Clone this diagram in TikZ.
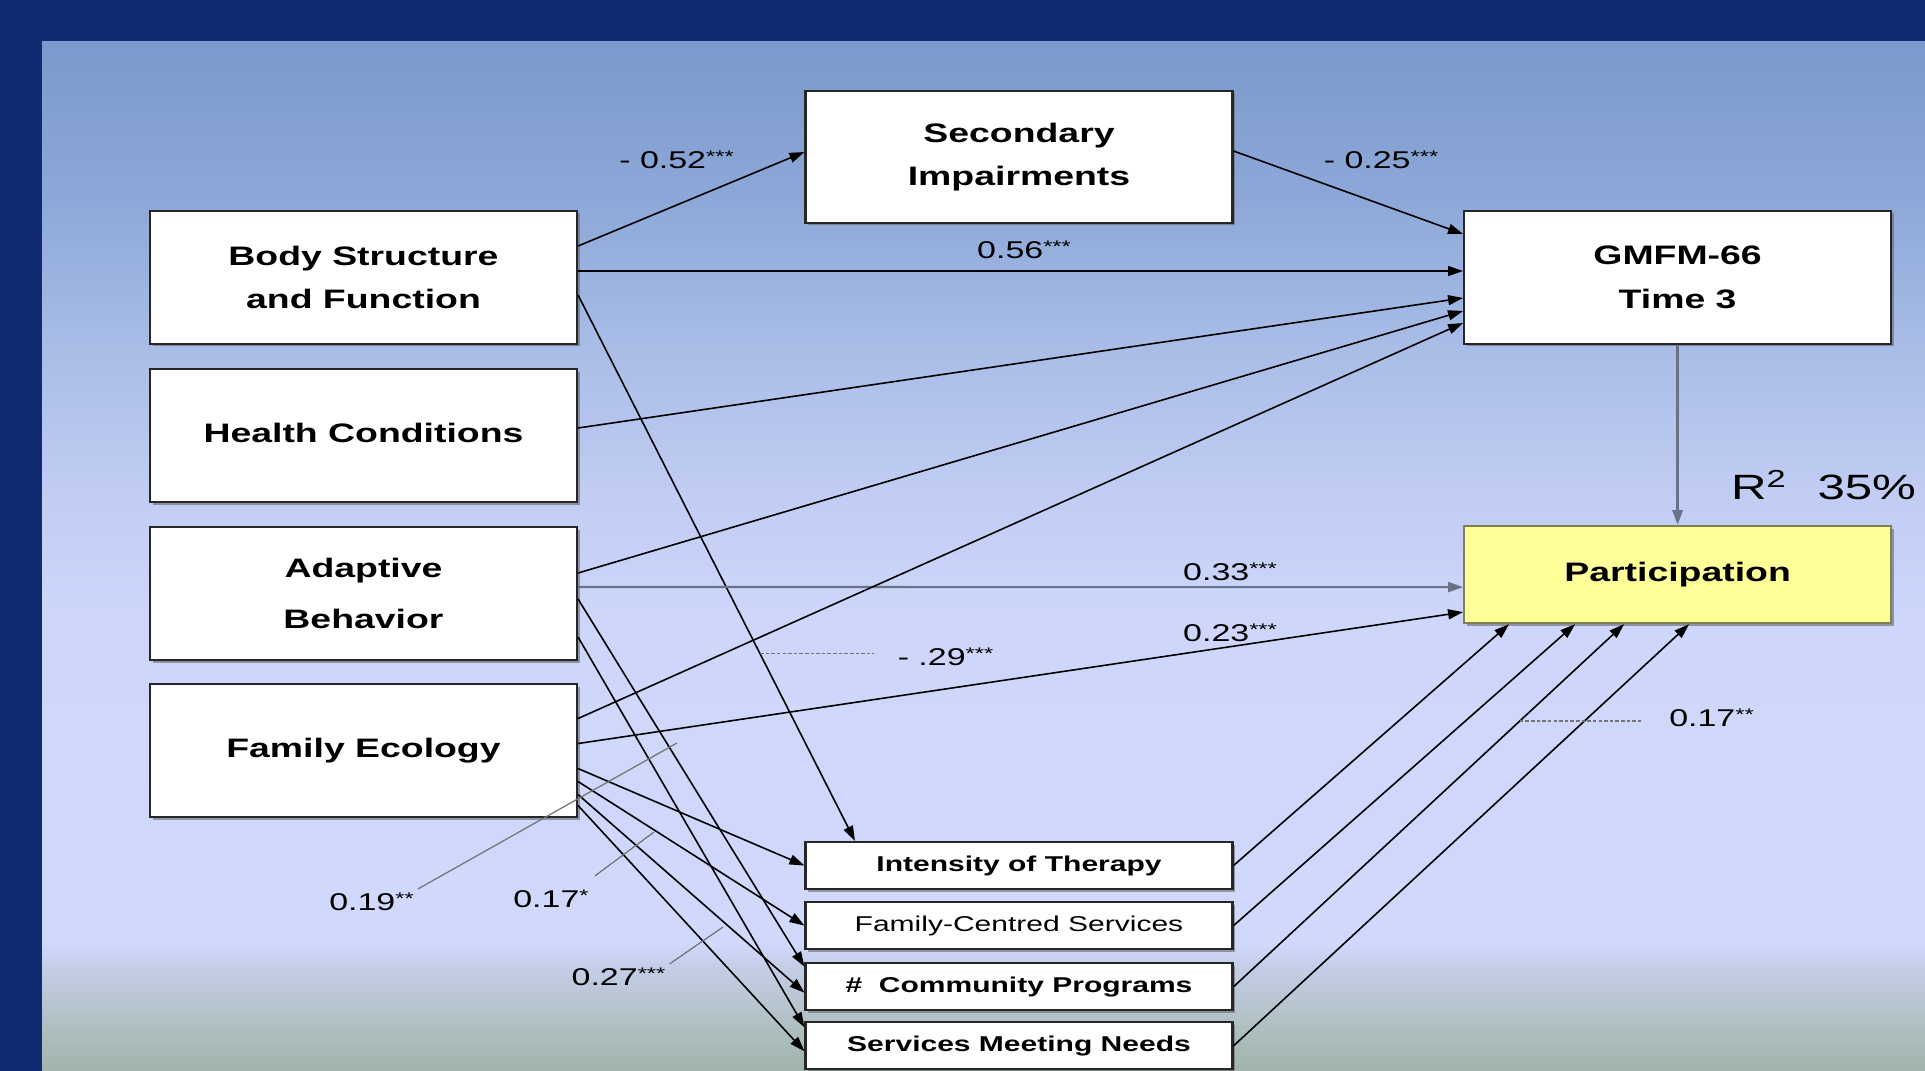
\documentclass[tikz,border=0pt]{standalone}
\usepackage{fontspec}
\setmainfont[FakeStretch=1.4]{Liberation Sans}
\usepackage{xcolor}
\usepackage{tikz}
\usetikzlibrary{positioning,arrows.meta,shadows}

\definecolor{slidenavy}{RGB}{17,43,115}
\definecolor{panTop}{RGB}{123,153,204}
\definecolor{panB}{RGB}{141,168,216}
\definecolor{panC}{RGB}{169,189,231}
\definecolor{panD}{RGB}{194,205,243}
\definecolor{panE}{RGB}{206,214,251}
\definecolor{panF}{RGB}{208,216,252}
\definecolor{panG}{RGB}{196,205,230}
\definecolor{panH}{RGB}{185,198,210}
\definecolor{panI}{RGB}{172,190,190}
\definecolor{panBot}{RGB}{160,180,172}
\definecolor{partfill}{RGB}{255,255,153}
\definecolor{partdraw}{RGB}{125,128,82}
\definecolor{greyline}{RGB}{105,115,135}

\pgfdeclareverticalshading{panelshade}{100bp}{color(0bp)=(panBot); color(25bp)=(panBot);
  color(26.85bp)=(panI); color(28.45bp)=(panH); color(30.05bp)=(panG); color(31.2bp)=(panF);
  color(46.9bp)=(panE); color(52.75bp)=(panD); color(60bp)=(panC); color(67.3bp)=(panB);
  color(75bp)=(panTop); color(100bp)=(panTop)}

\newcommand{\starsig}[1]{\raisebox{0.45ex}{\fontsize{4.8}{5}\selectfont #1}}

\begin{document}
\begin{tikzpicture}[
  node distance=0.229cm,
  block/.style={rectangle, draw=black!85, line width=0.6pt, fill=white, minimum width=4.27cm,
    minimum height=1.33cm, inner sep=0pt, align=center, font=\fontsize{7.6}{12.4}\selectfont\bfseries,
    drop shadow={shadow xshift=0.025cm, shadow yshift=-0.025cm, fill=black!60, opacity=0.6}},
  svcblock/.style={block, minimum height=0.47cm, font=\fontsize{6.1}{7}\selectfont\bfseries},
  arrow/.style={-{Triangle[length=1.5mm,width=1mm]}, line width=0.45pt},
  greyarrow/.style={arrow, draw=greyline, line width=0.9pt},
  coef/.style={font=\fontsize{6.9}{8}\selectfont, inner sep=1pt},
  pointer/.style={draw=black!55, line width=0.35pt}
]

% slide background
\useasboundingbox (0,0) rectangle (19.25,-10.71);
\fill[slidenavy] (0,0) rectangle (19.25,-10.71);
\shade[shading=panelshade] (0.42,-0.42) rectangle (19.25,-10.71);

% Left column
\node[block] at (3.635,-2.775) (body)   {Body Structure\\and Function};
\node[block, below=of body]           (health) {\raisebox{0.06cm}{Health Conditions}};
\node[block, below=of health]         (adapt)  {Adaptive\\[2pt]Behavior};
\node[block, below=0.219cm of adapt]  (family) {\raisebox{0.04cm}{Family Ecology}};

% Outcomes
\node[block, minimum height=1.32cm] at (10.19,-1.57) (second) {Secondary\\Impairments};
\node[block, right=8.85cm of body]    (gmfm)   {GMFM-66\\Time 3};
\node[block, below=1.80cm of gmfm, minimum height=0.97cm, fill=partfill, draw=partdraw] (part) {Participation};

% Services column
\node[svcblock] at (10.19,-8.655) (inten) {Intensity of Therapy};
\node[svcblock, below=0.11cm of inten, font=\fontsize{6.1}{7}\selectfont] (fcs) {Family-Centred Services};
\node[svcblock, below=0.12cm of fcs]  (comm) {\#\ \ Community Programs};
\node[svcblock, below=0.10cm of comm] (serv) {Services Meeting Needs};

% Arrows from body structure
\draw[arrow] ([yshift=0.315cm]body.east) -- ([yshift=0.05cm]second.west);
\draw[arrow] ([yshift=0.065cm]body.east) -- ([yshift=0.065cm]gmfm.west);
\draw[arrow] ([yshift=-0.175cm]body.east) -- coordinate[pos=0.657] (p29) ([xshift=-1.64cm]inten.north);
\draw[arrow] ([yshift=0.06cm]second.east) -- ([yshift=0.435cm]gmfm.west);

% Health conditions
\draw[arrow] ([yshift=0.075cm]health.east) -- ([yshift=-0.205cm]gmfm.west);

% Adaptive behavior
\draw[arrow] ([yshift=0.205cm]adapt.east) -- ([yshift=-0.335cm]gmfm.west);
\draw[arrow, draw=greyline, line width=0.6pt] ([yshift=0.065cm]adapt.east) -- ([yshift=-0.125cm]part.west);
\draw[arrow] ([yshift=-0.055cm]adapt.east) -- ([yshift=0.2cm]comm.west);
\draw[arrow] ([yshift=-0.435cm]adapt.east) -- ([yshift=0.185cm]serv.west);

% Family ecology
\draw[arrow] ([yshift=0.32cm]family.east) -- ([yshift=-0.455cm]gmfm.west);
\draw[arrow] ([yshift=0.07cm]family.east) -- ([yshift=-0.375cm]part.west);
\draw[arrow] ([yshift=-0.18cm]family.east) -- (inten.west);
\draw[arrow] ([yshift=-0.31cm]family.east) -- (fcs.west);
\draw[arrow] ([yshift=-0.44cm]family.east) -- ([yshift=-0.06cm]comm.west);
\draw[arrow] ([yshift=-0.55cm]family.east) -- ([yshift=-0.055cm]serv.west);

% Services to participation
\draw[arrow] (inten.east) -- ([xshift=-1.685cm]part.south);
\draw[arrow] (fcs.east)   -- ([xshift=-1.025cm]part.south);
\draw[arrow] (comm.east)  -- coordinate[pos=0.733] (p17) ([xshift=-0.535cm]part.south);
\draw[arrow] (serv.east)  -- ([xshift=0.115cm]part.south);
\draw[greyarrow] (gmfm.south) -- (part.north);

% Coefficients
\node[coef] at (6.765,-1.60)  (l52)  {- 0.52\starsig{***}};
\node[coef] at (13.81,-1.60)  (l25)  {- 0.25\starsig{***}};
\node[coef] at (10.24,-2.50)  (l56)  {0.56\starsig{***}};
\node[coef] at (12.30,-5.72)  (l33)  {0.33\starsig{***}};
\node[coef] at (12.30,-6.33)  (l23)  {0.23\starsig{***}};
\node[coef] at (9.455,-6.57)  (l29)  {- .29\starsig{***}};
\node[coef] at (17.115,-7.18) (l17b) {0.17\starsig{**}};
\node[coef] at (3.715,-9.02)  (l19)  {0.19\starsig{**}};
\node[coef] at (5.51,-8.99)   (l17)  {0.17\starsig{*}};
\node[coef] at (6.185,-9.77)  (l27)  {0.27\starsig{***}};
\node[font=\fontsize{10}{12}\selectfont, inner sep=1pt] at (18.235,-4.85) (r2) {R\textsuperscript{2}\hspace{0.3cm}35\%};

% Pointer lines
\coordinate (c19) at (6.77,-7.43);
\coordinate (c17) at (6.54,-8.32);
\coordinate (c27) at (7.23,-9.27);
\draw[pointer] (l19.north east) -- (c19);
\draw[pointer] ([shift={(0.02,0.1)}]l17.north east) -- (c17);
\draw[pointer] (l27.north east) -- (c27);
\draw[pointer, dash pattern=on 1pt off 0.6pt, shorten >=0.2cm] (p29) -- (p29 -| l29.west);
\draw[pointer, dash pattern=on 1pt off 0.6pt, shorten >=0.24cm] (p17) -- (p17 -| l17b.west);

\end{tikzpicture}
\end{document}
